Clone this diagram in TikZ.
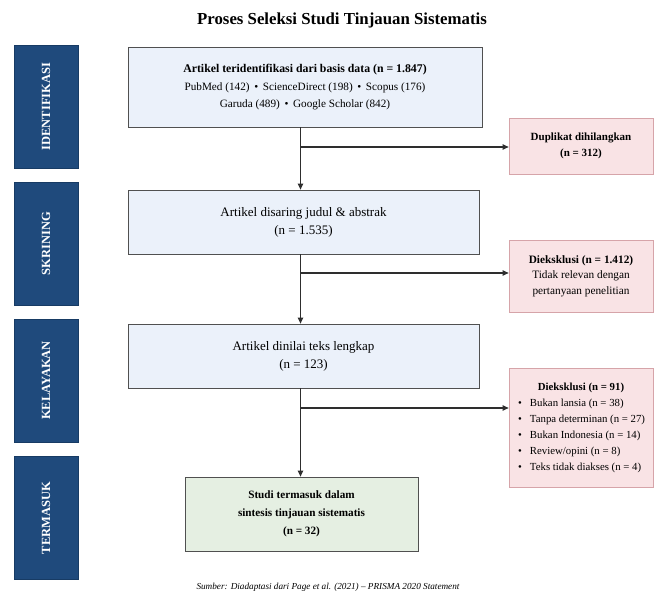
\documentclass[tikz,border=0pt]{standalone}
\usepackage{fontspec}
\setmainfont{Liberation Serif}
\usetikzlibrary{arrows.meta}
\definecolor{navy}{HTML}{1F4A7C}
\definecolor{navyd}{HTML}{173B64}
\definecolor{bluef}{HTML}{EBF1FA}
\definecolor{boxd}{HTML}{505050}
\definecolor{pinkf}{HTML}{F9E3E5}
\definecolor{pinkd}{HTML}{D6A4A9}
\definecolor{greenf}{HTML}{E5EFE2}
\definecolor{arrowc}{HTML}{2E2E2E}
\begin{document}
\begin{tikzpicture}[x=1pt,y=-1pt,
  phase/.style={draw=navyd, fill=navy, text=white, rotate=90, inner sep=0pt,
    minimum width=123pt, minimum height=64pt, font=\bfseries\fontsize{12.5}{14}\selectfont},
  bluebox/.style={draw=boxd, line width=0.8pt, fill=bluef, align=center, inner sep=0pt},
  greenbox/.style={draw=boxd, line width=0.8pt, fill=greenf, align=center, inner sep=0pt},
  pinkbox/.style={draw=pinkd, line width=0.8pt, fill=pinkf, align=center, inner sep=0pt,
    minimum width=144pt},
  arr/.style={draw=arrowc, line width=1.1pt, -{Triangle[length=6pt,width=5.5pt]}},
  txt/.style={inner sep=0pt}
]
\useasboundingbox (0,0) rectangle (657,599);
\fill[white] (0,0) rectangle (657,599);

% title
\node[txt, font=\bfseries\fontsize{16.8}{20}\selectfont] (title) at (342,20) {Proses Seleksi Studi Tinjauan Sistematis};

% phase bars
\node[phase] (ph1) at (46,106.5) {IDENTIFIKASI};
\node[phase] (ph2) at (46,243.5) {SKRINING};
\node[phase] (ph3) at (46,380.5) {KELAYAKAN};
\node[phase] (ph4) at (46,518) {TERMASUK};

% main boxes
\node[bluebox, minimum width=354pt, minimum height=80pt, font=\fontsize{11.2}{17}\selectfont] (b1) at (305,87)
  {{\bfseries\fontsize{11.8}{17}\selectfont Artikel teridentifikasi dari basis data (n = 1.847)}\\[1pt]PubMed (142) \,•\, ScienceDirect (198) \,•\, Scopus (176)\\Garuda (489) \,•\, Google Scholar (842)};
\node[bluebox, minimum width=351pt, minimum height=64pt, font=\fontsize{13}{18}\selectfont] (b2) at (303.5,222)
  {Artikel disaring judul \& abstrak\\(n = 1.535)};
\node[bluebox, minimum width=351pt, minimum height=64pt, font=\fontsize{13}{18}\selectfont] (b3) at (303.5,356)
  {Artikel dinilai teks lengkap\\(n = 123)};
\node[greenbox, minimum width=233pt, minimum height=74pt, font=\bfseries\fontsize{11.2}{18}\selectfont] (g) at (301.5,514)
  {Studi termasuk dalam\\sintesis tinjauan sistematis\\(n = 32)};

% exclusion boxes
\node[pinkbox, minimum height=56pt, font=\bfseries\fontsize{11}{16}\selectfont] (p1) at (581,146)
  {Duplikat dihilangkan\\(n = 312)};
\node[pinkbox, minimum height=72pt, font=\fontsize{11.3}{15.5}\selectfont] (p2) at (581,276)
  {\textbf{Dieksklusi (n = 1.412)}\\Tidak relevan dengan\\pertanyaan penelitian};
\node[pinkbox, minimum height=119pt] (p3) at (581,427.5) {};
\node[txt, font=\bfseries\fontsize{10.8}{12}\selectfont] (p3t) at (581,387.5) {Dieksklusi (n = 91)};
\node[txt, anchor=west, align=left, font=\fontsize{10.8}{16}\selectfont] (p3l) at (518,435.5)
  {•\hspace{8pt}Bukan lansia (n = 38)\\
   •\hspace{8pt}Tanpa determinan (n = 27)\\
   •\hspace{8pt}Bukan Indonesia (n = 14)\\
   •\hspace{8pt}Review/opini (n = 8)\\
   •\hspace{8pt}Teks tidak diakses (n = 4)};

% spine and junctions
\coordinate (sp) at (300.5,0);
\coordinate (j1) at (300.5,147);
\coordinate (j2) at (300.5,273);
\coordinate (j3) at (300.5,408);

\draw[arr] (b1.south -| sp) -- (b2.north -| sp);
\draw[arr] (b2.south -| sp) -- (b3.north -| sp);
\draw[arr] (b3.south -| sp) -- (g.north -| sp);
\draw[arr] (j1) -- (j1 -| p1.west);
\draw[arr] (j2) -- (j2 -| p2.west);
\draw[arr] (j3) -- (j3 -| p3.west);

% source
\node[txt, font=\itshape\fontsize{9.2}{11}\selectfont] (src) at (328,587)
  {Sumber: Diadaptasi dari Page et al. (2021) – PRISMA 2020 Statement};
\end{tikzpicture}
\end{document}
